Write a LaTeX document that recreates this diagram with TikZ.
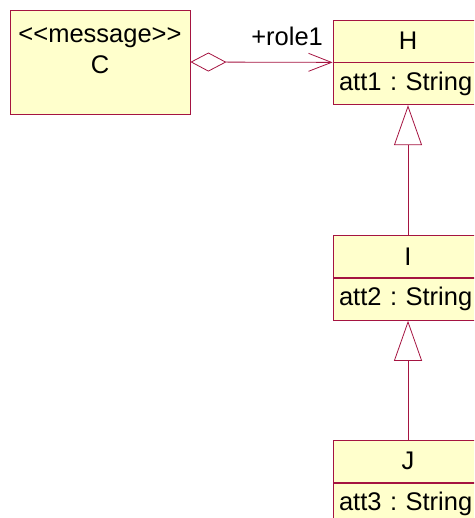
\documentclass[tikz,border=0pt]{standalone}
\usepackage{fontspec}
\setmainfont{Liberation Sans}
\usetikzlibrary{positioning,arrows.meta}

\definecolor{umlline}{RGB}{165,20,65}
\definecolor{umlfill}{RGB}{255,255,204}

\begin{document}
\begin{tikzpicture}[x=1pt, y=-1pt, node distance=0pt,
        every node/.style={font=\fontsize{25.5}{31}\selectfont\frenchspacing},
        classbox/.style={draw=umlline, fill=umlfill, line width=0.8pt, minimum width=150pt, minimum height=42pt, inner sep=2pt},
        attbox/.style={classbox, text width=138pt, inner xsep=6pt, align=left},
        link/.style={draw=umlline, line width=0.8pt}]
        \useasboundingbox (0,0) rectangle (474,518);
        \clip (0,0) rectangle (474,518);

        \node[classbox, minimum width=180pt, minimum height=104pt] (c) at (100,62) {};
        \node[align=center, anchor=north, inner sep=2pt, yshift=-15.4pt] (cname) at (c.north) {{<}{<}message{>}{>}\\C};

        \node[classbox] (h) at (408,41) {H};
        \node[attbox, below=of h] (hatt) {\mbox{att1 : String}};
        \node[classbox, below=130pt of hatt] (i) {I};
        \node[attbox, below=of i] (iatt) {\mbox{att2 : String}};
        \node[classbox, below=119pt of iatt] (j) {J};
        \node[attbox, below=of j] (jatt) {\mbox{att3 : String}};

        % aggregation
        \draw[link, {Diamond[open, length=36pt, width=19pt]}-{Straight Barb[length=23pt, width=18pt]}]
            (c.east) -- node[above=14pt, pos=0.68, inner sep=2pt] (role) {+role1} (h.south west);

        % generalization
        \draw[link, -{Triangle[open, length=40pt, width=28pt, fill=white]}] (i) -- (hatt);
        \draw[link, -{Triangle[open, length=40pt, width=28pt, fill=white]}] (j) -- (iatt);
    \end{tikzpicture}
\end{document}
